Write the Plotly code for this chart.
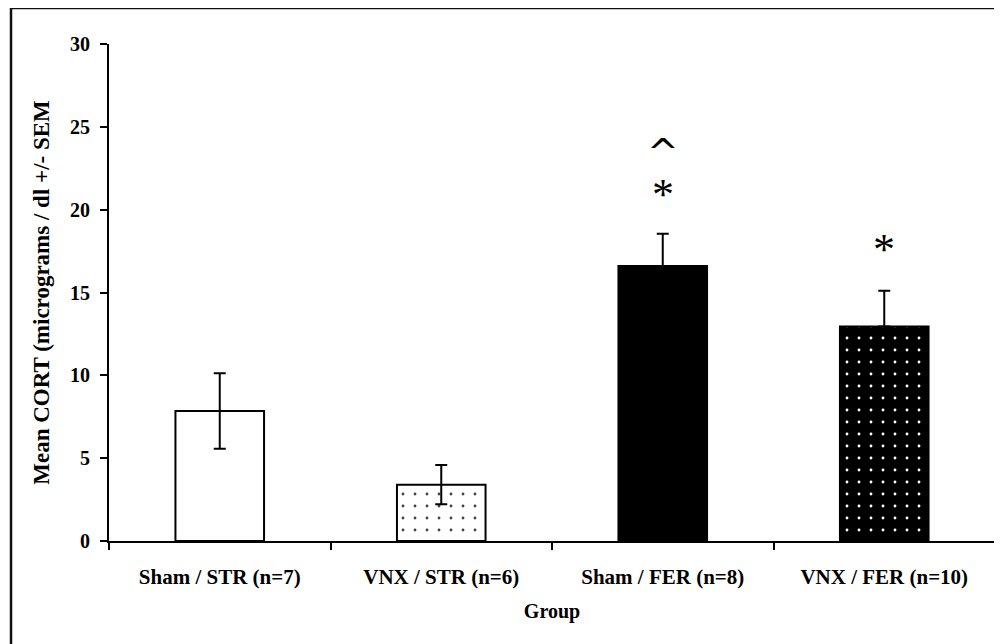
import plotly.graph_objects as go

categories = ["Sham / STR (n=7)", "VNX / STR (n=6)", "Sham / FER (n=8)", "VNX / FER (n=10)"]
means = [7.85, 3.4, 16.6, 12.95]
sem_plus = [2.28, 1.18, 1.95, 2.15]
sem_minus = [2.28, 1.18, 0, 0]
bg_colors = ["white", "white", "black", "black"]
fg_colors = ["black", "black", "black", "white"]
pattern_shapes = ["", ".", "", "."]

ann_x = [categories[2], categories[2], categories[3]]
ann_y = [20.9, 23.5, 17.6]
ann_text = ["*", "^", "*"]

FONT = "Liberation Serif"

fig = go.Figure()
fig.add_trace(go.Bar(
    x=categories, y=means, width=0.4,
    marker=dict(
        color=bg_colors,
        line=dict(color="black", width=2),
        pattern=dict(shape=pattern_shapes, fgcolor=fg_colors, bgcolor=bg_colors,
                     size=12, solidity=0.045, fillmode="overlay", fgopacity=1),
    ),
    error_y=dict(type="data", array=sem_plus, arrayminus=sem_minus, symmetric=False,
                 color="black", thickness=2, width=6),
    showlegend=False,
))

for xv, yv, t in zip(ann_x, ann_y, ann_text):
    fig.add_annotation(x=xv, y=yv, text=t, showarrow=False,
                       font=dict(family="DejaVu Sans" if t == "^" else FONT,
                                 size=44 if t == "*" else 38, color="black"))

fig.add_shape(type="rect", xref="paper", yref="paper",
              x0=-0.1106, x1=1.03, y0=-0.3, y1=1.0724,
              line=dict(color="#111", width=2.5), fillcolor="rgba(0,0,0,0)", layer="below")

fig.update_layout(
    width=994, height=636,
    margin=dict(l=101, r=7, t=36, b=103),
    paper_bgcolor="white", plot_bgcolor="white",
    font=dict(family=FONT, size=18, color="black"),
    xaxis=dict(
        title=dict(text="<b>Group</b>", font=dict(family=FONT, size=20), standoff=16),
        tickfont=dict(family=FONT, size=21),
        tickvals=categories, ticktext=["<b>%s</b>" % c for c in categories],
        showline=True, linecolor="black", linewidth=2,
        ticks="outside", ticklen=7, tickwidth=2, tickcolor="black",
        tickson="boundaries", ticklabelstandoff=16,
        showgrid=False, zeroline=False,
    ),
    yaxis=dict(
        title=dict(text="<b>Mean CORT (micrograms / dl +/- SEM</b>", font=dict(family=FONT, size=23), standoff=14),
        range=[0, 30], tickvals=[0, 5, 10, 15, 20, 25, 30],
        ticktext=["<b>%d</b>" % v for v in [0, 5, 10, 15, 20, 25, 30]],
        tickfont=dict(family=FONT, size=20),
        showline=True, linecolor="black", linewidth=2,
        ticks="outside", ticklen=7, tickwidth=2, tickcolor="black",
        ticklabelstandoff=6,
        showgrid=False, zeroline=False,
    ),
)

fig.write_html("out.html")
